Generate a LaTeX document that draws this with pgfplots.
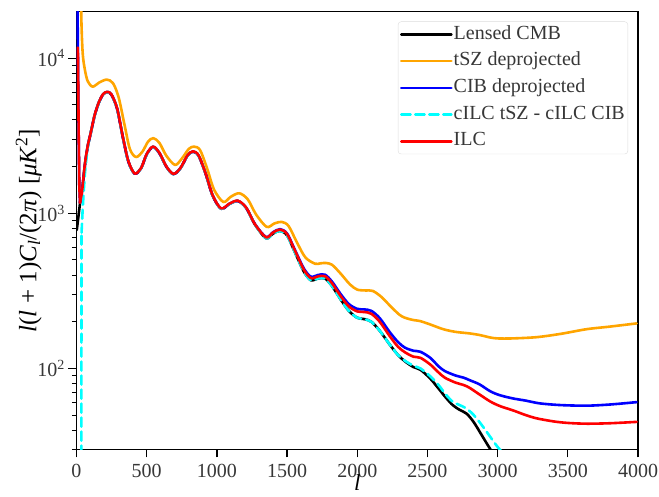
\documentclass[border=0pt]{standalone}
\usepackage{fontspec}
\setmainfont{Liberation Serif}
\usepackage{pgfplots}
\pgfplotsset{compat=1.18}
\definecolor{textgray}{RGB}{55,55,55}
\definecolor{mplorange}{RGB}{255,165,0}
\definecolor{mplblue}{RGB}{0,0,255}
\definecolor{mplcyan}{RGB}{0,255,255}
\definecolor{mplred}{RGB}{255,0,0}
\definecolor{legedge}{RGB}{220,220,220}
\pgfplotsset{cl/.style={line width=2.6pt, line cap=round, line join=round}}

\begin{document}
\begin{tikzpicture}
\useasboundingbox (-76.5pt,-46.5pt) rectangle (582.5pt,449.5pt);
\begin{axis}[
    at={(0pt,0pt)}, anchor=south west,
    scale only axis, width=561.5pt, height=438pt,
    ymode=log, log basis y=10,
    xmin=0, xmax=4000, ymin=30, ymax=20000,
    xtick={0,500,...,4000},
    /pgf/number format/.cd, 1000 sep={}, assume math mode=true, /pgfplots/.cd,
    yticklabel={10\textsuperscript{\pgfmathparse{int(round(\tick))}\pgfmathresult}},
    tick pos=left, tick align=outside,
    major tick length=8pt, minor tick length=4.5pt,
    every major tick/.style={black, line width=1.3pt},
    every minor tick/.style={black, line width=1pt},
    axis line style={line width=1.5pt},
    tick label style={font=\fontsize{20}{24}\selectfont, text=textgray},
    xticklabel style={inner sep=1pt, yshift=-5.6pt},
    xlabel={\textit{l}},
    xlabel style={font=\fontsize{23}{27}\selectfont, text=black, inner sep=0pt,
        at={(axis description cs:0.5,0)}, anchor=base, yshift=-40.8pt},
    ylabel={\textit{l}(\textit{l} + 1)\textit{C}\textsubscript{\textit{l}}/(2\textit{π}) [\textit{μK}\textsuperscript{2}]},
    ylabel style={font=\fontsize{25}{29}\selectfont, text=black,
        at={(axis description cs:-0.085,0.5)}, anchor=center},
    legend style={at={(1,1)}, anchor=north east, xshift=-10pt, yshift=-10pt,
        draw=legedge, rounded corners=3pt, fill=white, fill opacity=0.8, text opacity=1,
        font=\fontsize{20}{24}\selectfont, text=textgray,
        nodes={inner sep=1pt, text height=14pt, text depth=4.5pt},
        row sep=6.2pt, inner xsep=2pt, inner ysep=2.5pt},
    legend cell align=left,
    legend image code/.code={\draw[#1] (0pt,0pt) -- (42pt,0pt); \path (0pt,0pt) -- (50pt,0pt);},
]
% Lensed CMB
\addplot[black, cl, smooth] coordinates {
(25,1160) (40,1400) (60,2050) (80,2700) (100,3250) (130,4300) (160,5200) (190,5850)
(220,6050) (250,5800) (290,4700) (330,3100) (370,2150) (415,1800) (460,1950) (500,2400)
(545,2680) (590,2450) (640,2000) (690,1790) (740,1950) (790,2350) (830,2500) (870,2350)
(920,1800) (970,1300) (1030,1070) (1090,1150) (1150,1200) (1210,1080) (1270,850) (1350,690)
(1400,740) (1450,770) (1500,720) (1560,550) (1620,420) (1670,370) (1720,380) (1770,380)
(1820,340) (1880,280) (1940,235) (2000,212) (2050,208) (2100,200) (2160,175) (2230,143)
(2290,122) (2340,111) (2400,102) (2450,98) (2520,86) (2580,74) (2630,65) (2680,58)
(2730,54) (2780,51) (2830,45) (2880,38) (2930,32) (2970,28)};
\addlegendentry{Lensed CMB}
\addplot[black, cl, forget plot] coordinates {(2,780) (25,1160)};
% tSZ deprojected
\addplot[mplorange, cl, smooth] coordinates {
(30,30000) (36,16000) (45,10500) (60,8400) (80,7100) (115,6550) (160,6950) (215,7280)
(260,6900) (300,5600) (340,3800) (380,2600) (424,2306) (470,2500) (510,2900) (547,3050)
(590,2850) (640,2350) (702,2050) (750,2250) (800,2600) (837,2690) (880,2560) (930,1950)
(980,1420) (1046,1183) (1100,1280) (1160,1346) (1220,1230) (1280,980) (1355,817) (1410,860)
(1461,880) (1510,830) (1570,650) (1630,520) (1699,473) (1740,476) (1777,478) (1820,466)
(1880,410) (1948,348) (2000,322) (2060,318) (2110,316) (2170,290) (2240,250) (2300,222)
(2340,212) (2400,205) (2447,202) (2520,192) (2612,179) (2700,172) (2803,168) (2874,164)
(2950,158) (3004,156) (3100,156) (3278,159) (3450,167) (3634,179) (3800,186) (3990,195)};
\addlegendentry{tSZ deprojected}
% CIB deprojected
\addplot[mplblue, cl, smooth] coordinates {
(25,1170) (40,1400) (60,2050) (80,2700) (100,3250) (130,4300) (160,5200) (190,5850)
(220,6050) (250,5800) (290,4700) (330,3100) (370,2150) (415,1800) (460,1950) (500,2400)
(545,2680) (590,2450) (640,2000) (690,1790) (740,1950) (790,2350) (830,2500) (870,2350)
(920,1800) (970,1300) (1030,1070) (1090,1150) (1150,1200) (1210,1080) (1270,855) (1350,703)
(1400,755) (1450,790) (1500,740) (1560,570) (1620,440) (1670,390) (1720,400) (1770,402)
(1820,363) (1880,303) (1940,260) (2000,242) (2050,240) (2100,235) (2160,211) (2230,172)
(2290,148) (2340,136) (2400,130) (2450,128) (2520,117) (2580,103) (2625,96) (2700,90)
(2760,87) (2800,84) (2870,79) (2950,71) (3020,67) (3110,64) (3200,62) (3300,59.5)
(3450,58) (3634,57.5) (3800,58.5) (3990,60.6)};
\addlegendentry{CIB deprojected}
\addplot[mplblue, cl, forget plot] coordinates {(6,30000) (10,11000) (15,3500) (20,1500) (25,1170)};
% cILC tSZ - cILC CIB
\addplot[mplcyan, cl, smooth, dash pattern=on 9pt off 5pt] coordinates {
(36,750) (45,1100) (60,1800) (80,2650) (100,3250) (130,4300) (160,5200) (190,5850)
(220,6050) (250,5800) (290,4700) (330,3100) (370,2150) (415,1800) (460,1950) (500,2400)
(545,2680) (590,2450) (640,2000) (690,1790) (740,1950) (790,2350) (830,2500) (870,2350)
(920,1800) (970,1300) (1030,1070) (1090,1150) (1150,1200) (1210,1080) (1270,850) (1350,690)
(1400,740) (1450,770) (1500,720) (1560,550) (1620,420) (1670,370) (1720,380) (1770,380)
(1820,340) (1880,280) (1940,235) (2000,212) (2050,208) (2100,200) (2160,175) (2230,143)
(2290,122) (2340,112) (2400,104) (2450,100) (2520,89) (2580,78) (2630,68) (2680,61)
(2730,58) (2780,55) (2830,50) (2880,44) (2940,37) (2990,32) (3030,29)};
\addlegendentry{cILC tSZ - cILC CIB\hspace{7pt}}
\addplot[mplcyan, cl, forget plot, dash pattern=on 9pt off 5pt] coordinates {(33,1) (36,750)};
% ILC
\addplot[mplred, cl, smooth] coordinates {
(25,1170) (40,1400) (60,2080) (80,2720) (100,3260) (130,4320) (160,5220) (190,5870)
(220,6070) (250,5820) (290,4720) (330,3110) (370,2160) (415,1805) (460,1955) (500,2410)
(545,2690) (590,2460) (640,2005) (690,1795) (740,1955) (790,2360) (830,2510) (870,2360)
(920,1805) (970,1305) (1030,1075) (1090,1155) (1150,1205) (1210,1085) (1270,853) (1350,700)
(1400,752) (1450,785) (1500,735) (1560,565) (1620,432) (1670,382) (1720,392) (1770,393)
(1820,354) (1880,294) (1940,251) (2000,233) (2050,231) (2100,225) (2160,200) (2230,162)
(2290,138) (2340,127) (2400,119) (2450,117) (2520,106) (2580,94) (2625,87) (2700,81)
(2760,78) (2800,75) (2870,68) (2950,61) (3020,57) (3110,53.6) (3200,50) (3280,47.6)
(3400,45.5) (3500,44.5) (3634,44) (3800,44.3) (3990,45.2)};
\addlegendentry{ILC}
\addplot[mplred, cl, forget plot] coordinates {(10,11700) (15,3600) (20,1500) (25,1170)};
\end{axis}
\end{tikzpicture}
\end{document}
